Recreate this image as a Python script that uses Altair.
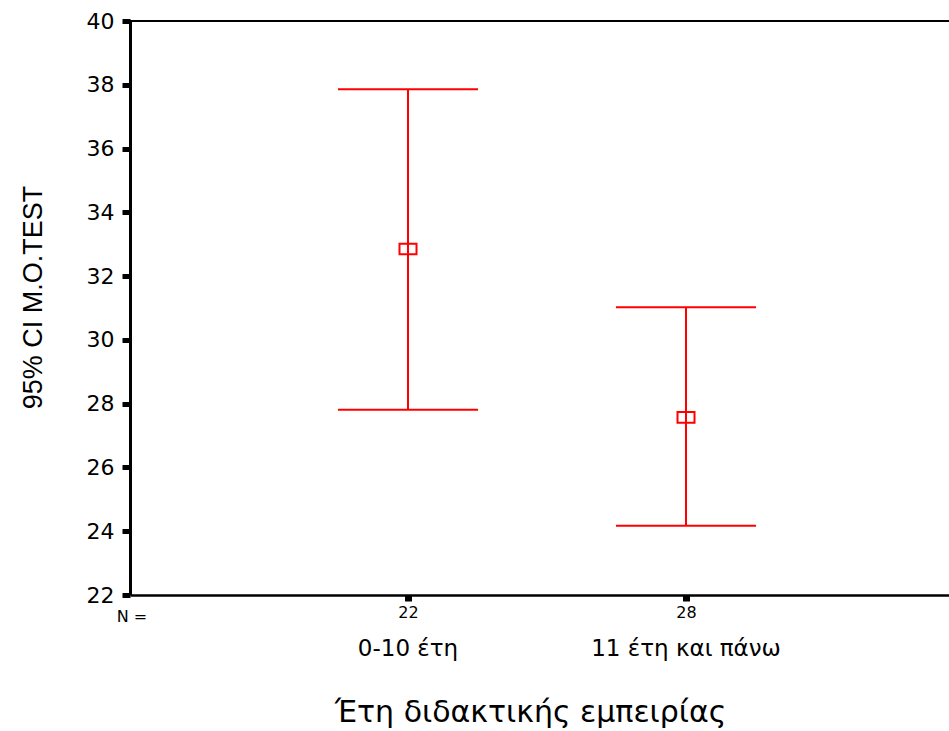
import altair as alt
import pandas as pd

# ---- data ----
groups = ["0-10 έτη", "11 έτη και πάνω"]
group_pos = [1, 2]
n_values = [22, 28]
means = [32.85, 27.57]
lower = [27.81, 24.17]
upper = [37.86, 31.02]

y_ticks = [22, 24, 26, 28, 30, 32, 34, 36, 38, 40]

df = pd.DataFrame({
    "group": groups,
    "pos": group_pos,
    "n": n_values,
    "mean": means,
    "lower": lower,
    "upper": upper,
})

# style constants
W, H = 819, 574
RED = "#FF0000"
CAP_HALF = 0.252
X_DOMAIN = [0, 2.946]

label_expr = " : ".join(
    [f"datum.value == {p} ? '{n}'" for p, n in zip(group_pos, n_values)] + ["''"]
)

x_scale = alt.Scale(domain=X_DOMAIN, nice=False, zero=False)
y_scale = alt.Scale(domain=[22, 40], nice=False, zero=False)

x_enc = alt.X(
    "pos:Q",
    scale=x_scale,
    axis=alt.Axis(
        values=group_pos,
        labelExpr=label_expr,
        grid=False,
        domainColor="black",
        domainWidth=2.5,
        tickColor="black",
        tickSize=6,
        tickWidth=7,
        labelFont="DejaVu Sans",
        labelFontSize=16,
        labelColor="black",
        labelPadding=3,
        title="Έτη διδακτικής εμπειρίας",
        titleFont="DejaVu Sans",
        titleFontSize=30,
        titleFontWeight="normal",
        titleColor="black",
        titleX=400,
        titleY=126,
        titleBaseline="alphabetic",
        titleAnchor="start",
        titleAlign="center",
    ),
)

y_axis = alt.Axis(
    values=y_ticks,
    grid=False,
    domainColor="black",
    domainWidth=3,
    tickColor="black",
    tickSize=8,
    tickWidth=5,
    labelFont="DejaVu Sans",
    labelFontSize=22,
    labelColor="black",
    labelPadding=8,
    title="95% CI M.O.TEST",
    titleFont="Liberation Sans",
    titleFontSize=27,
    titleFontWeight="normal",
    titleColor="black",
    titleAngle=270,
    titleX=-89,
    titleY=276,
    titleBaseline="alphabetic",
    titleAlign="center",
)

base = alt.Chart(df)

bars = base.mark_rule(color=RED, strokeWidth=2).encode(
    x=x_enc,
    y=alt.Y("lower:Q", scale=y_scale, axis=y_axis),
    y2="upper:Q",
)

caps_upper = base.transform_calculate(
    x1=f"datum.pos - {CAP_HALF}", x2=f"datum.pos + {CAP_HALF}"
).mark_rule(color=RED, strokeWidth=2).encode(
    x=alt.X("x1:Q", scale=x_scale),
    x2="x2:Q",
    y=alt.Y("upper:Q", scale=y_scale),
)

caps_lower = base.transform_calculate(
    x1=f"datum.pos - {CAP_HALF}", x2=f"datum.pos + {CAP_HALF}"
).mark_rule(color=RED, strokeWidth=2).encode(
    x=alt.X("x1:Q", scale=x_scale),
    x2="x2:Q",
    y=alt.Y("lower:Q", scale=y_scale),
)

points = base.mark_point(
    shape="M-1,-0.62L1,-0.62L1,0.62L-1,0.62Z",
    size=289,
    filled=False,
    color=RED,
    strokeWidth=2,
    opacity=1,
).encode(
    x=alt.X("pos:Q", scale=x_scale),
    y=alt.Y("mean:Q", scale=y_scale),
)

cat_labels = base.mark_text(
    font="DejaVu Sans", fontSize=23, color="black", baseline="alphabetic", align="center"
).encode(
    x=alt.X("pos:Q", scale=x_scale),
    y=alt.value(H + 61),
    text="group:N",
)

n_label = alt.Chart(pd.DataFrame({"t": ["N ="]})).mark_text(
    font="DejaVu Sans", fontSize=16, color="black", baseline="alphabetic", align="center"
).encode(
    x=alt.value(2),
    y=alt.value(H + 27),
    text="t:N",
)

top_line = alt.Chart(pd.DataFrame({"t": [0]})).mark_rule(
    color="black", strokeWidth=2
).encode(
    x=alt.value(0),
    x2=alt.value(W),
    y=alt.value(0),
)

chart = alt.layer(
    top_line, bars, caps_upper, caps_lower, points, cat_labels, n_label
).properties(
    width=W,
    height=H,
    padding={"left": 130, "top": 21, "right": 0, "bottom": 136},
    autosize=alt.AutoSizeParams(type="none"),
    background="white",
).configure_view(stroke=None)

chart.save("out.html", embed_options={"renderer": "svg", "actions": False})
